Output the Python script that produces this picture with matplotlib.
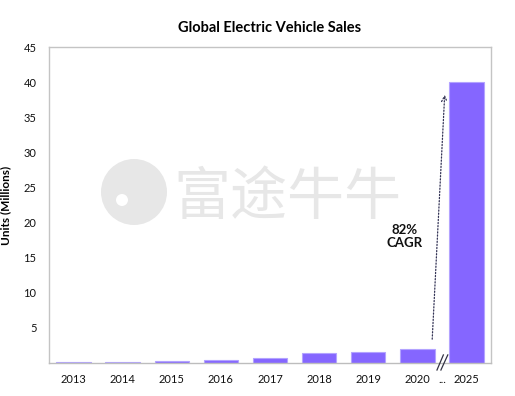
import matplotlib
matplotlib.use("Agg")
from matplotlib import pyplot as plt
from matplotlib.patches import Ellipse

# Global EV sales in millions of units
years = ["2013", "2014", "2015", "2016", "2017", "2018", "2019", "2020", "2025"]
sales = [0.1, 0.2, 0.3, 0.45, 0.75, 1.4, 1.6, 2.0, 40.0]
y_ticks = [5, 10, 15, 20, 25, 30, 35, 40, 45]
cagr_label = "82%\nCAGR"

plt.rcParams["font.family"] = ["Lato", "DejaVu Sans"]

fig = plt.figure(figsize=(5.15, 3.96), dpi=100)
ax = fig.add_axes([49 / 515, 1 - 363 / 396, 442 / 515, 316 / 396])

# faint watermark behind the chart
fig.text(173 / 515, 1 - 198 / 396, "富途牛牛", fontsize=41, color="#e7e7e7",
         family=["Noto Sans CJK SC", "DejaVu Sans"], va="center", ha="left", zorder=0)
fig.patches.append(Ellipse((134 / 515, 1 - 192 / 396), 66 / 515, 66 / 396,
                           transform=fig.transFigure, facecolor="#e7e7e7",
                           edgecolor="none", zorder=0))
fig.patches.append(Ellipse((122 / 515, 1 - 200 / 396), 12 / 515, 12 / 396,
                           transform=fig.transFigure, facecolor="white",
                           edgecolor="none", zorder=0))

x = list(range(len(years)))
ax.patch.set_alpha(0)
ax.bar(x, sales, width=0.7, color="#8566ff", edgecolor="#b3a3ff", linewidth=0.8, zorder=2)

ax.set_xlim(-0.5, 8.5)
ax.set_ylim(0, 45)
ax.set_yticks(y_ticks)
ax.set_xticks(x[:-1] + [7.5, 8])
ax.set_xticklabels(years[:-1] + ["...", years[-1]])
ax.tick_params(length=0, labelsize=8, colors="#111111", pad=8)
ax.tick_params(axis="y", pad=9)
for s in ax.spines.values():
    s.set_color("#c4c4c4")
    s.set_linewidth(1)
ax.spines["bottom"].set_color("#bdbdbd")

ax.set_ylabel("Units (Millions)", fontsize=8.5, fontweight="bold", labelpad=9)
ax.set_title("Global Electric Vehicle Sales", fontsize=10.5, fontweight="bold", pad=11)

# axis break marks between 2020 and 2025
ax.plot([7.40, 7.53], [-1.0, 1.15], color="#333344", lw=0.9, clip_on=False, zorder=3)
ax.plot([7.48, 7.62], [-1.0, 1.15], color="#333344", lw=0.9, clip_on=False, zorder=3)

# growth arrow and label
ax.annotate("", xy=(7.56, 38.6), xytext=(7.3, 3.0),
            arrowprops=dict(arrowstyle="->", linestyle=(0, (1, 1.5)), color="#333355", lw=0.9))
ax.text(6.75, 18.0, cagr_label, ha="center", va="center", fontsize=9.5,
        fontweight="bold", color="#111111", linespacing=1.05)

fig.savefig("out.png", dpi=100)
